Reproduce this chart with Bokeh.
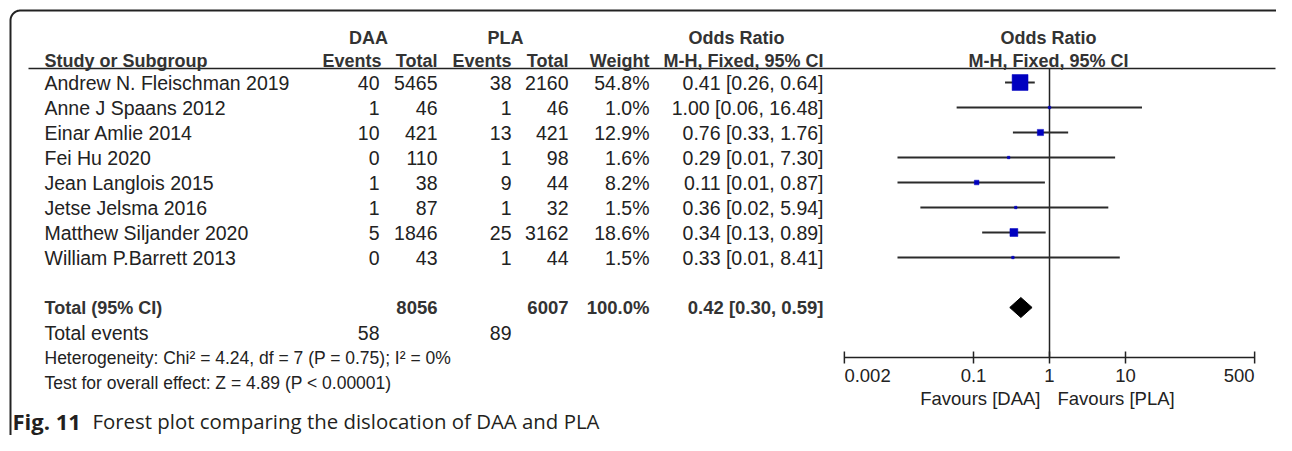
import numpy as np
from bokeh.plotting import figure
from bokeh.models import Range1d, LogScale, ColumnDataSource
from bokeh.core.properties import value
from bokeh.embed import file_html
from bokeh.resources import INLINE

# ---------------- data ----------------
studies = ["Andrew N. Fleischman 2019", "Anne J Spaans 2012", "Einar Amlie 2014",
           "Fei Hu 2020", "Jean Langlois 2015", "Jetse Jelsma 2016",
           "Matthew Siljander 2020", "William P.Barrett 2013"]
daa_events = [40, 1, 10, 0, 1, 1, 5, 0]
daa_total = [5465, 46, 421, 110, 38, 87, 1846, 43]
pla_events = [38, 1, 13, 1, 9, 1, 25, 1]
pla_total = [2160, 46, 421, 98, 44, 32, 3162, 44]
weight = [54.8, 1.0, 12.9, 1.6, 8.2, 1.5, 18.6, 1.5]
or_est = [0.41, 1.00, 0.76, 0.29, 0.11, 0.36, 0.34, 0.33]
or_lo = [0.26, 0.06, 0.33, 0.01, 0.01, 0.02, 0.13, 0.01]
or_hi = [0.64, 16.48, 1.76, 7.30, 0.87, 5.94, 0.89, 8.41]

total_daa = 8056
total_pla = 6007
total_weight = 100.0
total_or = [0.42, 0.30, 0.59]
events_daa = 58
events_pla = 89
heterogeneity = "Heterogeneity: Chi\u00b2 = 4.24, df = 7 (P = 0.75); I\u00b2 = 0%"
overall = "Test for overall effect: Z = 4.89 (P < 0.00001)"
tick_values = [0.002, 0.1, 1, 10, 500]
tick_labels = ["0.002", "0.1", "1", "10", "500"]
favours = ["Favours [DAA]", "Favours [PLA]"]
caption_bold = "Fig. 11"
caption_text = "Forest plot comparing the dislocation of DAA and PLA"

# ---------------- layout ----------------
W, H = 1276, 435
ONE_X, DEC = 1049, 76          # pixel position of OR=1 and pixels per decade
ROW0, STEP = 82, 25
FONT = value("Liberation Sans")
TXT = "#222222"

p = figure(width=W, height=H, output_backend="svg", toolbar_location=None,
           x_range=Range1d(0, W), y_range=Range1d(H, 0),
           x_axis_location=None, y_axis_location=None, min_border=0,
           outline_line_color=None, background_fill_color="white",
           border_fill_color="white")
p.xgrid.grid_line_color = None
p.ygrid.grid_line_color = None

p.extra_x_ranges = {"or": Range1d(10 ** ((0 - ONE_X) / DEC), 10 ** ((W - ONE_X) / DEC))}
p.extra_x_scales = {"or": LogScale()}

# frame (rounded corners)
t = np.linspace(0, np.pi / 2, 20)
left_x = [10, 10]; left_y = [460, 20]
arc1x = list(20 - 10 * np.cos(t)); arc1y = list(20 - 10 * np.sin(t))
arc2x = list(1280 + 10 * np.sin(t)); arc2y = list(20 - 10 * np.cos(t))
p.line(left_x + arc1x + arc2x, left_y + arc1y + arc2y, line_color="#222222", line_width=2)

# header underline
p.segment(x0=[28], x1=[1275], y0=[68], y1=[68], line_color="#222222", line_width=1.6)

# ---------------- headers ----------------
def txt(x, y, s, align="left", bold=False, size="19.5px", color=TXT, font=FONT, **kw):
    p.text(x=x, y=y, text=s, text_align=align, text_baseline="middle",
           text_font=font, text_font_size=size, text_color=color,
           text_font_style="bold" if bold else "normal", **kw)

HC = "#333333"
txt([368, 505, 736, 1048], [37] * 4, ["DAA", "PLA", "Odds Ratio", "Odds Ratio"],
    align="center", bold=True, size="18px", color=HC)
txt([44], [60], ["Study or Subgroup"], bold=True, size="18px", color=HC)
txt([381, 437, 511, 568, 649, 823], [60] * 6,
    ["Events", "Total", "Events", "Total", "Weight", "M-H, Fixed, 95% CI"],
    align="right", bold=True, size="18px", color=HC)
txt([1048], [60], ["M-H, Fixed, 95% CI"], align="center", bold=True, size="18px", color=HC)

# ---------------- study rows ----------------
n = len(studies)
ys = [ROW0 + STEP * i for i in range(n)]
txt([44] * n, ys, studies)
txt([379] * n, ys, [str(v) for v in daa_events], align="right")
txt([437] * n, ys, [str(v) for v in daa_total], align="right")
txt([511] * n, ys, [str(v) for v in pla_events], align="right")
txt([568] * n, ys, [str(v) for v in pla_total], align="right")
txt([649] * n, ys, ["%.1f%%" % w for w in weight], align="right")
txt([823] * n, ys, ["%.2f [%.2f, %.2f]" % (e, l, h) for e, l, h in zip(or_est, or_lo, or_hi)],
    align="right")

# totals
yt = ROW0 + STEP * (n + 1)
txt([44], [yt], ["Total (95% CI)"], bold=True, size="18px", color=HC)
txt([437, 568, 649, 823], [yt] * 4,
    [str(total_daa), str(total_pla), "%.1f%%" % total_weight,
     "%.2f [%.2f, %.2f]" % tuple(total_or)], align="right", bold=True, size="18.5px", color=HC)
ye = yt + STEP
txt([44], [ye], ["Total events"])
txt([379, 511], [ye, ye], [str(events_daa), str(events_pla)], align="right")
txt([44], [ye + STEP], [heterogeneity], size="17.5px")
txt([44], [ye + 2 * STEP], [overall], size="17.5px")

# caption
txt([12], [420], [caption_bold], bold=True, size="22px", color="#231f20", font=value("Open Sans"))
txt([92], [420], [caption_text], size="20.4px", color="#231f20", font=value("Open Sans"))

# ---------------- forest ----------------
src = ColumnDataSource(dict(y=ys, est=or_est, lo=or_lo, hi=or_hi,
                            size=[max(2.5, 1.18 * w ** 0.65) for w in weight]))
AX_Y = ye + STEP
p.segment(x0=[1], x1=[1], y0=[68], y1=[AX_Y], x_range_name="or",
          line_color="#222222", line_width=1.5)
p.segment(x0="lo", x1="hi", y0="y", y1="y", source=src, x_range_name="or",
          line_color="#2b2b2b", line_width=2)
p.scatter(x="est", y="y", size="size", marker="square", source=src, x_range_name="or",
          fill_color="#0000C0", line_color="#0000C0", line_width=0.5)

# diamond
p.patch(x=[total_or[1], total_or[0], total_or[2], total_or[0]],
        y=[yt, yt - 10, yt, yt + 10], x_range_name="or",
        fill_color="black", line_color="black", line_width=1)

# axis
p.segment(x0=[tick_values[0]], x1=[tick_values[-1]], y0=[AX_Y], y1=[AX_Y],
          x_range_name="or", line_color="#222222", line_width=1.5)
p.segment(x0=tick_values, x1=tick_values, y0=[AX_Y - 6] * 5, y1=[AX_Y + 6] * 5,
          x_range_name="or", line_color="#222222", line_width=1.5)
LY = AX_Y + 18
txt(tick_values[:1], [LY], tick_labels[:1], align="left", size="18.5px", x_range_name="or")
txt(tick_values[1:4], [LY] * 3, tick_labels[1:4], align="center", size="18.5px", x_range_name="or")
txt(tick_values[4:], [LY], tick_labels[4:], align="right", size="18.5px", x_range_name="or")
txt([1], [LY + 23], [favours[0]], align="right", size="18.5px", x_range_name="or", x_offset=-9)
txt([1], [LY + 23], [favours[1]], align="left", size="18.5px", x_range_name="or", x_offset=8)

open("out.html", "w").write(file_html(p, INLINE))
